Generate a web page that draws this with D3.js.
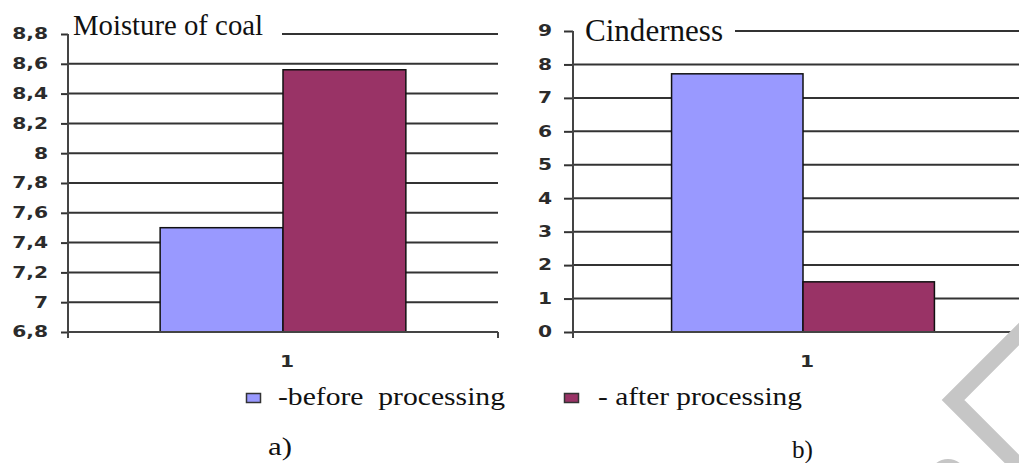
<!DOCTYPE html>
<html>
<head>
<meta charset="utf-8">
<script src="https://cdn.jsdelivr.net/npm/d3@7"></script>
<style>
  body { margin: 0; background: #fff; }
  svg { display: block; }
  .tick text { font-family: "DejaVu Sans", sans-serif; font-weight: bold; font-size: 15px; fill: #2b2b2b; }
  .serif { font-family: "Liberation Serif", "Times New Roman", serif; fill: #111; white-space: pre; }
</style>
</head>
<body>
<svg id="chart" width="1019" height="463"></svg>
<script>
// data
const categories = ["1"]
const seriesNames = ["-before  processing", "- after processing"]
const seriesColors = ["#9999ff", "#993366"]
const moistureValues = [7.5, 8.56]
const moistureTicks = [6.8, 7, 7.2, 7.4, 7.6, 7.8, 8, 8.2, 8.4, 8.6, 8.8]
const cindernessValues = [7.72, 1.5]
const cindernessTicks = [0, 1, 2, 3, 4, 5, 6, 7, 8, 9]
const panelLabels = ["a)", "b)"]

// comma as decimal mark, "7" not "7,0"
const fmt = d3.formatLocale({decimal: ",", thousands: "\u00a0", grouping: [3], currency: ["", ""]}).format(".1~f")
const sx = 1.35 // tick labels are drawn wide in the original

const svg = d3.select("#chart")

const panels = [
  { title: "Moisture of coal", values: moistureValues, ticks: moistureTicks,
    left: 68, right: 498, top: 34, bottom: 332, tickLen: 7, labelGap: 20,
    titleX: 73, titleY: 35, titleSize: 29, titleLen: 190, gridStart: 282 },
  { title: "Cinderness", values: cindernessValues, ticks: cindernessTicks,
    left: 573, right: 1033, top: 31, bottom: 332, tickLen: 9, labelGap: 21,
    titleX: 585, titleY: 41, titleSize: 31, titleLen: 138, gridStart: 735 }
]

function drawPanel(p) {
  const g = svg.append("g")
  const yMin = d3.min(p.ticks), yMax = d3.max(p.ticks)

  const y = d3.scaleLinear()
      .domain([yMin, yMax])
      .range([p.bottom, p.top])
  // Excel style: gap width 150%
  const x = d3.scaleBand()
      .domain(categories)
      .range([p.left, p.right])
      .paddingOuter(0.375)
      .paddingInner(0)
  const xs = d3.scaleBand()
      .domain(d3.range(p.values.length))
      .range([0, x.bandwidth()])

  // gridlines, the top one stops short of the title
  g.selectAll("line.grid")
      .data(p.ticks.filter(t => t !== yMin))
    .enter().append("line")
      .attr("class", "grid")
      .attr("x1", t => t === yMax ? p.gridStart : p.left)
      .attr("x2", p.right)
      .attr("y1", t => y(t))
      .attr("y2", t => y(t))
      .attr("stroke", "#333")
      .attr("stroke-width", 2)

  // bars
  g.selectAll("rect.bar")
      .data(p.values)
    .enter().append("rect")
      .attr("class", "bar")
      .attr("x", (d, i) => x(categories[0]) + xs(i))
      .attr("y", d => y(d))
      .attr("width", xs.bandwidth())
      .attr("height", d => y(yMin) - y(d))
      .attr("fill", (d, i) => seriesColors[i])
      .attr("stroke", "#111")
      .attr("stroke-width", 1.5)

  // y axis
  const yAxis = g.append("g")
      .attr("transform", `translate(${p.left},0)`)
      .call(d3.axisLeft(y).tickValues(p.ticks).tickSize(p.tickLen).tickSizeOuter(0).tickFormat(fmt))
  yAxis.select(".domain").remove()
  yAxis.selectAll(".tick line").attr("stroke", "#333").attr("stroke-width", 2)
  yAxis.selectAll(".tick text")
      .attr("x", -p.labelGap / sx)
      .attr("transform", `scale(${sx},1)`)

  g.append("line")
      .attr("x1", p.left).attr("x2", p.left)
      .attr("y1", y(yMax)).attr("y2", y(yMin) + 6)
      .attr("stroke", "#444").attr("stroke-width", 2)

  // x axis
  g.append("line")
      .attr("x1", p.left).attr("x2", p.right)
      .attr("y1", y(yMin)).attr("y2", y(yMin))
      .attr("stroke", "#444").attr("stroke-width", 2)
  g.append("line")
      .attr("x1", p.right).attr("x2", p.right)
      .attr("y1", y(yMin)).attr("y2", y(yMin) + 6)
      .attr("stroke", "#444").attr("stroke-width", 2)

  const xAxis = g.append("g")
      .attr("transform", `translate(0,${y(yMin)})`)
      .call(d3.axisBottom(x).tickSize(0).tickPadding(24))
  xAxis.select(".domain").remove()
  xAxis.selectAll(".tick text")
      .attr("x", 4 / sx)
      .attr("transform", `scale(${sx},1)`)

  // title
  g.append("text")
      .attr("class", "serif")
      .attr("x", p.titleX)
      .attr("y", p.titleY)
      .attr("font-size", p.titleSize)
      .attr("textLength", p.titleLen)
      .attr("lengthAdjust", "spacingAndGlyphs")
      .text(p.title)
}

panels.forEach(drawPanel)

// legend
const legendLayout = [
  { box: 246, text: 278, len: 227 },
  { box: 564, text: 598, len: 204 }
]
const legend = svg.append("g")
legend.selectAll("rect")
    .data(seriesNames)
  .enter().append("rect")
    .attr("x", (d, i) => legendLayout[i].box + 0.5)
    .attr("y", 393.5)
    .attr("width", 14)
    .attr("height", 9)
    .attr("fill", (d, i) => seriesColors[i])
    .attr("stroke", "#333")
    .attr("stroke-width", 1.5)
legend.selectAll("text")
    .data(seriesNames)
  .enter().append("text")
    .attr("class", "serif")
    .attr("x", (d, i) => legendLayout[i].text)
    .attr("y", 405)
    .attr("font-size", 26)
    .attr("textLength", (d, i) => legendLayout[i].len)
    .attr("lengthAdjust", "spacingAndGlyphs")
    .text(d => d)

// panel captions
const captionLayout = [
  { x: 268, y: 455, len: 24 },
  { x: 792, y: 458, len: 21 }
]
svg.selectAll("text.caption")
    .data(panelLabels)
  .enter().append("text")
    .attr("class", "serif caption")
    .attr("x", (d, i) => captionLayout[i].x)
    .attr("y", (d, i) => captionLayout[i].y)
    .attr("font-size", 25)
    .attr("textLength", (d, i) => captionLayout[i].len)
    .attr("lengthAdjust", "spacingAndGlyphs")
    .text(d => d)

// grey page decoration at the right edge
svg.append("path")
    .attr("d", "M1028,325 L953,400 L1028,475")
    .attr("fill", "none")
    .attr("stroke", "#c6c6c6")
    .attr("stroke-width", 16)
svg.append("circle")
    .attr("cx", 948).attr("cy", 478).attr("r", 15)
    .attr("fill", "none")
    .attr("stroke", "#c6c6c6")
    .attr("stroke-width", 8)
</script>
</body>
</html>
